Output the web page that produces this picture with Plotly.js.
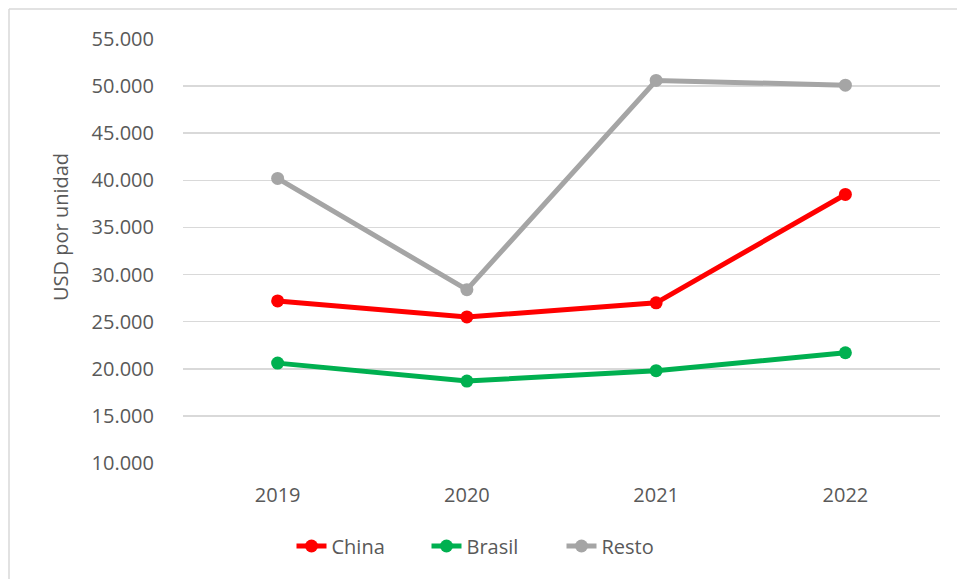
<!DOCTYPE html>
<html>
<head>
<meta charset="utf-8">
<script src="https://cdn.plot.ly/plotly-3.0.1.min.js"></script>
<style>html,body{margin:0;padding:0;background:#fff;}#chart{width:957px;height:579px;}</style>
</head>
<body>
<div id="chart"></div>
<script>
const years = ["2019", "2020", "2021", "2022"];
const china = [27200, 25500, 27000, 38500];
const brasil = [20600, 18700, 19800, 21700];
const resto = [40200, 28400, 50600, 50100];
const tickVals = [10000, 15000, 20000, 25000, 30000, 35000, 40000, 45000, 50000, 55000];
const tickText = ["10.000", "15.000", "20.000", "25.000", "30.000", "35.000", "40.000", "45.000", "50.000", "55.000"];
const yTitle = "USD por unidad";

const font = {family: "Open Sans, sans-serif", size: 20, color: "#595959"};
function series(name, y, color) {
  return {x: years, y: y, name: name, type: "scatter", mode: "lines+markers",
    line: {color: color, width: 5}, marker: {color: color, size: 13}};
}
const L = 183, R = 940, T = 39, B = 463;
const W = R - L, H = B - T;
const px = v => (v - L) / W, py = v => (B - v) / H;

const data = [series("China", china, "#FF0000"), series("Brasil", brasil, "#00B050"), series("Resto", resto, "#A5A5A5")];
const layout = {
  width: 957, height: 579,
  margin: {l: L, r: 957 - R, t: T, b: 579 - B},
  paper_bgcolor: "#fff", plot_bgcolor: "#fff",
  font: font,
  showlegend: true,
  legend: {orientation: "h", x: px(494), xanchor: "center", y: py(546), yanchor: "middle", font: font,
    bgcolor: "rgba(0,0,0,0)", entrywidth: 90},
  xaxis: {type: "category", range: [-0.5, 3.5], showgrid: false, zeroline: false, showline: false,
    ticks: "outside", ticklen: 14, tickcolor: "rgba(0,0,0,0)", tickfont: font},
  yaxis: {range: [10000, 55000], tickvals: tickVals, ticktext: tickText, showgrid: true, gridcolor: "#D9D9D9", gridwidth: 1.5,
    zeroline: false, showline: false, ticks: "outside", ticklen: 24, tickcolor: "rgba(0,0,0,0)", tickfont: font},
  annotations: [
    {text: yTitle, xref: "paper", yref: "paper", x: px(60), y: py(227), xanchor: "center", yanchor: "middle",
      textangle: -90, showarrow: false, font: font}
  ],
  shapes: [
    {type: "line", xref: "paper", yref: "paper", x0: px(9), x1: px(960), y0: py(9), y1: py(9), line: {color: "#D9D9D9", width: 1.5}},
    {type: "line", xref: "paper", yref: "paper", x0: px(9), x1: px(9), y0: py(9), y1: py(600), line: {color: "#D9D9D9", width: 1.5}}
  ]
};
Plotly.newPlot("chart", data, layout, {displayModeBar: false, staticPlot: true});
</script>
</body>
</html>
